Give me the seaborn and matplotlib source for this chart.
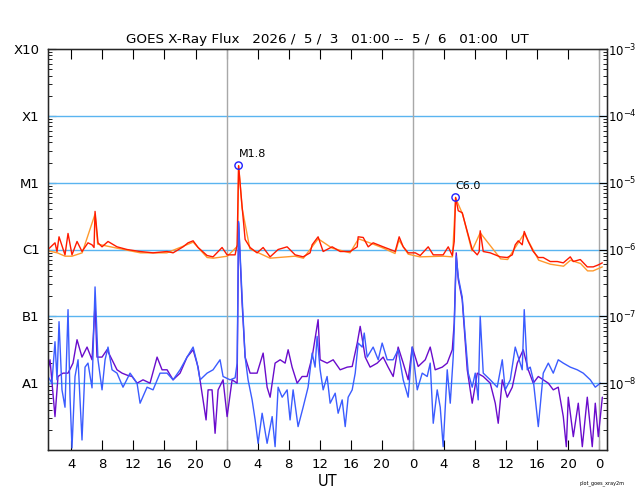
import numpy as np
import matplotlib
matplotlib.use('Agg')
import matplotlib.pyplot as plt
import seaborn as sns

# hours since 2026/5/3 00:00 UT, and log10 of the flux (W/m^2)
long_t = [1.0, 1.9, 2.16, 2.42, 3.19, 3.58, 4.09, 4.74, 5.38, 6.15, 6.67, 6.93, 7.06, 7.44,
          7.96, 8.73, 9.89, 11.18, 12.86, 14.53, 16.34, 17.11, 18.4, 19.04, 19.69, 20.33,
          21.49, 22.26, 23.42, 24.07, 25.1, 25.36, 25.55, 26.0, 26.39, 27.03, 27.93, 28.71,
          29.61, 30.64, 31.8, 32.83, 33.86, 34.76, 35.02, 35.79, 36.44, 37.6, 38.63, 39.92,
          40.83, 40.95, 41.6, 42.24, 42.88, 44.17, 45.07, 45.72, 46.23, 46.75, 47.39, 48.3,
          48.94, 49.97, 50.62, 51.9, 52.55, 53.07, 53.32, 53.5, 53.84, 54.35, 55.0, 55.64,
          56.29, 56.54, 56.67, 57.06, 57.96, 59.25, 60.15, 60.8, 61.18, 61.57, 62.08, 62.34,
          62.86, 63.5, 64.15, 64.79, 65.69, 66.6, 67.37, 68.27, 68.66, 69.56, 70.46, 71.23,
          71.88, 72.4]
long_log = [-6.00, -5.90, -6.03, -5.81, -6.08, -5.76, -6.08, -5.88, -6.03, -5.90, -5.93, -5.97,
            -5.43, -5.90, -5.96, -5.88, -5.96, -6.00, -6.03, -6.05, -6.03, -6.05, -5.96, -5.90,
            -5.87, -5.97, -6.09, -6.11, -5.97, -6.08, -6.08, -5.93, -4.745, -5.36, -5.85, -5.97,
            -6.05, -5.97, -6.11, -6.00, -5.96, -6.08, -6.11, -6.05, -5.93, -5.81, -6.03, -5.96,
            -6.03, -6.03, -5.96, -5.81, -5.82, -5.96, -5.90, -5.96, -6.00, -6.03, -5.81, -5.96,
            -6.05, -6.05, -6.09, -5.96, -6.08, -6.08, -5.96, -6.09, -5.88, -5.22, -5.42, -5.45,
            -5.73, -6.00, -6.08, -6.03, -5.72, -6.03, -6.05, -6.11, -6.12, -6.08, -5.93, -5.87,
            -5.93, -5.73, -5.88, -6.03, -6.12, -6.12, -6.18, -6.18, -6.20, -6.11, -6.18, -6.15,
            -6.26, -6.26, -6.23, -6.20]

long2_t = [1.0, 2.2, 3.2, 4.1, 5.4, 7.06, 7.4, 9.9, 12.9, 16.3, 19.7, 21.5, 22.3, 24.1, 25.4,
           25.55, 26.0, 27.0, 29.6, 32.8, 33.9, 35.8, 37.6, 39.9, 41.0, 42.9, 44.2, 45.7, 46.2,
           47.4, 48.9, 51.9, 53.1, 53.5, 54.4, 55.6, 56.67, 59.3, 60.2, 62.34, 64.2, 65.7,
           67.4, 68.3, 69.6, 70.5, 71.2, 72.4]
long2_log = [-6.02, -6.05, -6.10, -6.10, -6.05, -5.47, -5.92, -5.98, -6.05, -6.05, -5.89, -6.12,
             -6.13, -6.10, -5.95, -4.75, -5.38, -5.99, -6.13, -6.10, -6.13, -5.84, -5.98, -6.05,
             -5.84, -5.92, -5.98, -6.06, -5.86, -6.07, -6.11, -6.10, -6.11, -5.23, -5.47, -6.02,
             -5.75, -6.14, -6.15, -5.76, -6.16, -6.22, -6.25, -6.16, -6.21, -6.32, -6.32, -6.26]

short_t = [1.0, 1.5, 1.9, 2.16, 2.42, 2.8, 3.19, 3.58, 3.84, 4.09, 4.48, 4.87, 5.38, 5.77,
           6.15, 6.67, 7.06, 7.44, 7.96, 8.35, 8.73, 9.25, 9.89, 10.66, 11.57, 12.47, 12.86,
           13.76, 14.53, 15.43, 16.34, 17.11, 18.01, 18.91, 19.69, 20.2, 20.59, 21.49, 22.26,
           23.16, 23.55, 24.45, 25.1, 25.36, 25.55, 26.0, 26.39, 26.77, 27.29, 27.68, 28.06,
           28.58, 29.22, 29.87, 30.25, 30.64, 31.16, 31.8, 32.18, 32.57, 33.21, 33.86, 34.5,
           35.02, 35.4, 35.66, 36.05, 36.44, 36.95, 37.34, 37.99, 38.37, 38.89, 39.28, 39.66,
           40.18, 40.57, 40.95, 41.47, 41.73, 42.11, 42.88, 43.53, 44.04, 44.69, 45.46, 46.1,
           46.75, 47.39, 47.91, 48.56, 49.2, 49.84, 50.23, 50.62, 51.13, 51.52, 51.9, 52.42,
           52.81, 53.19, 53.32, 53.58, 53.84, 54.35, 54.74, 55.13, 55.64, 56.03, 56.41, 56.67,
           57.06, 57.96, 58.86, 59.51, 59.89, 60.54, 61.18, 61.57, 62.08, 62.34, 62.73, 63.11,
           63.5, 64.15, 64.79, 65.44, 66.08, 66.72, 67.37, 68.27, 69.17, 69.94, 70.85, 71.49,
           72.14]
short_log = [-7.90, -8.00, -7.38, -7.95, -7.08, -8.10, -8.36, -6.90, -8.21, -8.97, -7.90, -7.65,
             -8.85, -7.76, -7.70, -8.07, -6.56, -7.65, -8.10, -7.65, -7.46, -7.80, -7.85, -8.06,
             -7.85, -8.00, -8.30, -8.06, -8.10, -7.85, -7.85, -7.95, -7.80, -7.61, -7.46, -7.70,
             -7.95, -7.85, -7.80, -7.65, -7.90, -7.95, -7.92, -7.70, -5.58, -6.71, -7.61, -7.95,
             -8.25, -8.55, -8.90, -8.45, -8.90, -8.50, -8.95, -8.06, -8.21, -8.10, -8.55, -8.10,
             -8.65, -8.36, -8.06, -7.55, -7.76, -7.30, -7.80, -8.10, -7.90, -8.30, -8.15, -8.45,
             -8.25, -8.65, -8.21, -8.10, -7.85, -7.40, -7.46, -7.25, -7.61, -7.46, -7.65, -7.40,
             -7.65, -7.65, -7.50, -7.95, -8.21, -7.46, -8.10, -7.85, -7.90, -7.70, -8.60, -8.10,
             -8.36, -8.95, -7.80, -8.30, -7.61, -7.20, -6.10, -6.41, -6.71, -7.30, -7.85, -8.06,
             -7.85, -8.25, -7.00, -7.85, -7.95, -8.06, -7.65, -8.10, -7.95, -7.46, -7.61, -7.80,
             -6.90, -7.80, -7.76, -7.95, -8.65, -7.85, -7.70, -7.85, -7.65, -7.70, -7.76, -7.80,
             -7.85, -7.95, -8.06, -8.00]

short2_t = [1.0, 1.26, 1.9, 2.29, 2.93, 3.58, 4.22, 4.74, 5.38, 6.03, 6.67, 7.06, 7.31, 7.96,
            8.6, 9.25, 9.89, 10.54, 11.18, 11.82, 12.47, 13.24, 14.14, 15.05, 15.69, 16.34,
            17.11, 18.01, 18.91, 19.69, 20.33, 20.97, 21.36, 21.62, 22.13, 22.52, 22.91, 23.55,
            24.07, 24.71, 25.36, 25.55, 26.0, 26.39, 27.03, 27.93, 28.71, 29.22, 29.61, 30.25,
            30.9, 31.54, 31.93, 32.44, 33.09, 33.73, 34.37, 35.02, 35.79, 36.05, 36.95, 37.73,
            38.63, 39.54, 40.18, 40.83, 41.21, 41.86, 42.49, 43.4, 44.17, 44.81, 45.46, 46.1,
            46.75, 47.39, 47.91, 48.68, 49.59, 50.23, 50.87, 51.78, 52.42, 53.07, 53.32, 53.58,
            53.84, 54.35, 55.0, 55.64, 56.29, 57.06, 57.96, 58.61, 58.99, 59.51, 60.15, 60.8,
            61.44, 62.21, 62.86, 63.5, 64.15, 64.79, 65.44, 66.08, 66.72, 67.37, 67.76, 68.01,
            68.66, 69.3, 69.82, 70.46, 71.1, 71.49, 71.88, 72.4]
short2_log = [-7.80, -7.65, -8.50, -7.90, -7.85, -7.85, -7.70, -7.35, -7.61, -7.46, -7.65, -6.80,
              -7.61, -7.61, -7.50, -7.65, -7.80, -7.85, -7.88, -7.90, -8.00, -7.95, -8.00, -7.61,
              -7.80, -7.80, -7.95, -7.85, -7.61, -7.50, -7.76, -8.25, -8.55, -8.10, -8.10, -8.75,
              -8.10, -7.95, -8.50, -7.95, -8.00, -5.60, -6.80, -7.61, -7.85, -7.85, -7.55, -8.06,
              -8.21, -7.70, -7.65, -7.70, -7.50, -7.76, -8.00, -7.90, -7.90, -7.61, -7.05, -7.65,
              -7.70, -7.65, -7.80, -7.76, -7.75, -7.40, -7.15, -7.61, -7.76, -7.70, -7.61, -7.76,
              -7.90, -7.46, -7.70, -7.95, -7.46, -7.75, -7.65, -7.46, -7.80, -7.76, -7.70, -7.50,
              -7.10, -6.05, -6.45, -6.75, -7.80, -8.30, -7.85, -7.90, -8.00, -8.30, -8.60, -7.95,
              -8.21, -8.06, -7.70, -7.50, -7.80, -8.00, -7.90, -7.95, -8.00, -8.10, -8.06, -8.50,
              -8.95, -8.21, -8.80, -8.30, -8.95, -8.21, -8.95, -8.30, -8.80, -8.21]

flare_t = [25.55, 53.5]
flare_flux = [1.8e-5, 6.0e-6]
flare_class = ['M1.8', 'C6.0']

class_labels = ['X10', 'X1', 'M1', 'C1', 'B1', 'A1']
class_flux = [1e-3, 1e-4, 1e-5, 1e-6, 1e-7, 1e-8]
hour_ticks = list(range(4, 73, 4))

sns.set_style('ticks')
plt.rcParams['font.family'] = ['DejaVu Sans']
plt.rcParams['text.color'] = 'black'
plt.rcParams['xtick.color'] = 'black'
plt.rcParams['ytick.color'] = 'black'
plt.rcParams['axes.labelcolor'] = 'black'

fig = plt.figure(figsize=(6.4, 5), dpi=100)
ax = fig.add_axes([48 / 640, 50 / 500, 559 / 640, 401 / 500])
ax.set_yscale('log')

# background guide lines
for f in class_flux[1:]:
    ax.axhline(f, color='#5ab4f0', lw=1.0, zorder=1)
for d in [24, 48, 72]:
    ax.axvline(d, color='#a8a8a8', lw=1.0, zorder=1)

sns.lineplot(x=long2_t, y=10 ** np.array(long2_log), ax=ax, color='#ff9a2e', lw=1.0,
             estimator=None, sort=False, zorder=2)
sns.lineplot(x=long_t, y=10 ** np.array(long_log), ax=ax, color='#ff1a00', lw=1.0,
             estimator=None, sort=False, zorder=3)
sns.lineplot(x=short2_t, y=10 ** np.array(short2_log), ax=ax, color='#6a0ccc', lw=1.0,
             estimator=None, sort=False, zorder=2)
sns.lineplot(x=short_t, y=10 ** np.array(short_log), ax=ax, color='#3b5cff', lw=1.0,
             estimator=None, sort=False, zorder=3)

sns.scatterplot(x=flare_t, y=flare_flux, ax=ax, marker='o', s=28, facecolor='none',
                edgecolor='#2020ff', linewidth=1.0, zorder=4)
for t, f, c in zip(flare_t, flare_flux, flare_class):
    ax.annotate(c, (t, f), xytext=(0, 5), textcoords='offset points', fontsize=8,
                ha='left', va='bottom')

ax.set_xlim(1, 73)
ax.set_ylim(1e-9, 1e-3)
ax.set_xticks(hour_ticks)
ax.set_xticklabels([str(h % 24) for h in hour_ticks])
ax.set_yticks(class_flux)
ax.set_yticklabels(class_labels)
ax.tick_params(axis='x', direction='in', length=7, top=True, labelsize=9.5, pad=6)
ax.tick_params(axis='y', which='both', direction='in', labelsize=9.5, pad=6)
ax.tick_params(axis='y', which='major', length=6)
ax.tick_params(axis='y', which='minor', length=3)
ax.set_xlabel('UT', fontsize=10.5, labelpad=2)
ax.set_ylabel('')
for sp in ax.spines.values():
    sp.set_color('black')
    sp.set_linewidth(1.0)

ax2 = ax.twinx()
ax2.set_yscale('log')
ax2.set_ylim(1e-9, 1e-3)
ax2.set_yticks(class_flux)
ax2.set_yticklabels([r'$10^{%d}$' % e for e in range(-3, -9, -1)])
ax2.tick_params(axis='y', which='both', direction='in', labelsize=8.5, pad=1)
ax2.tick_params(axis='y', which='major', length=6)
ax2.tick_params(axis='y', which='minor', length=3)

ax.set_title('GOES X-Ray Flux   2026 /  5 /  3   01:00 --  5 /  6   01:00   UT',
             fontsize=9.7, pad=4)
fig.text(0.975, 0.033, 'plot_goes_xray2m', fontsize=3.5, ha='right', va='center')

fig.savefig('out.png', dpi=100)
